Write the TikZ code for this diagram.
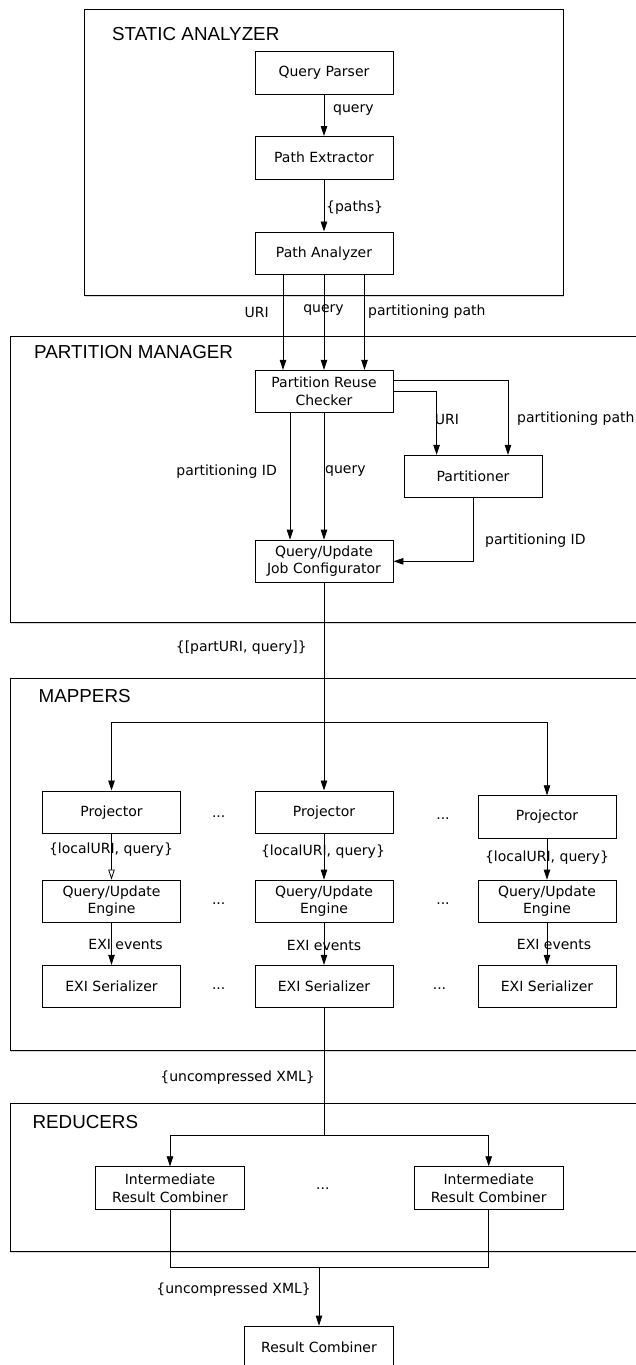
\documentclass[tikz,border=0pt]{standalone}
\usepackage{fontspec}
\usetikzlibrary{arrows.meta,shadows}
\newfontfamily\boxfamily{DejaVu Sans}
\newfontfamily\grpfamily{Liberation Sans}
\newcommand\boxfont{\boxfamily\fontsize{14}{17.6}\selectfont}
\newcommand\grpfont{\grpfamily\fontsize{18.8}{22}\selectfont}
\tikzset{
  box/.style={draw, line width=0.9pt, minimum width=138pt, minimum height=42.5pt,
    inner sep=0pt, align=center, font=\boxfont},
  widebox/.style={box, minimum width=149pt},
  group/.style={draw, line width=1pt,
    drop shadow={shadow xshift=0.8pt, shadow yshift=-1.6pt, fill=black!30}},
  grplabel/.style={right, inner sep=0pt, font=\grpfont},
  lbl/.style={inner sep=0pt, font=\boxfont},
  flow/.style={line width=0.8pt, -{Triangle[length=10pt,width=6.5pt]}},
  openflow/.style={line width=0.8pt, -{Triangle[open,length=10pt,width=6.5pt]}},
  link/.style={line width=0.8pt},
}
\begin{document}
\begin{tikzpicture}[x=1pt,y=-1pt]
\useasboundingbox (0,0) rectangle (635,1365);
%\draw [help lines, step=50pt] (0,0) grid (635,1365);

% static analyzer
\draw [group, fill=white] (84.6,9) rectangle (563.4,295.7);
\node [grplabel] (saTitle) at (112,34.3) {STATIC ANALYZER};
\node [box] (qp) at (324,72.8) {Query Parser};
\node [box] (pe) at (324,157.7) {Path Extractor};
\node [box] (pa) at (324,253.2) {Path Analyzer};
\draw [flow] (qp) -- (pe);
\node [lbl, right] (lQuery) at (333,110.3) {query};
\draw [flow] (pe) -- (pa);
\node [lbl, right] (lPaths) at (326,207.3) {\{paths\}};

% partition manager
\draw [group, fill=white] (10,336) rectangle (640,622.7);
\node [grplabel] (pmTitle) at (34,352.3) {PARTITION MANAGER};
\node [box] (prc) at (324,391.5) {Partition Reuse\\Checker};
\node [box] (part) at (473,476.5) {Partitioner};
\node [box] (qjc) at (324,561.3) {Query/Update\\Job Configurator};

\draw [flow] ([xshift=-41pt]pa.south) -- ([xshift=-41pt]prc.north);
\draw [flow] (pa.south) -- (prc.north);
\draw [flow] ([xshift=40.5pt]pa.south) -- ([xshift=40.5pt]prc.north);
\node [lbl, left] (lUri) at (269,312) {URI};
\node [lbl] (lQuery2) at (323.5,309.7) {query};
\node [lbl, right] (lPath) at (368,312) {partitioning path};

\draw [flow] ([yshift=10.8pt]prc.east) -| ([xshift=35pt]part.north);
\draw [flow] (prc.east) -| ([xshift=-36.4pt]part.north);
\node [lbl, right] (lUri2) at (434.6,419) {URI};
\node [lbl, right] (lPath2) at (517,418.3) {partitioning path};

\draw [flow] ([xshift=-34pt]prc.south) -- ([xshift=-34pt]qjc.north);
\draw [flow] (prc.south) -- (qjc.north);
\node [lbl, left] (lPid) at (277,471.3) {partitioning ID};
\node [lbl, right] (lQuery3) at (325,471.3) {query};
\draw [flow] (part.south) |- (qjc.east);
\node [lbl, right] (lPid2) at (485,541) {partitioning ID};

% mappers
\draw [group, fill=white] (10,678.3) rectangle (640,1050);
\node [grplabel] (mapTitle) at (38.5,696) {MAPPERS};
\node [box] (projL) at (111.5,812.2) {Projector};
\node [box] (projM) at (324,812.2) {Projector};
\node [box] (projR) at (547,817) {Projector};
\node [box] (engL) at (111.5,901.3) {Query/Update\\Engine};
\node [box] (engM) at (324,901.3) {Query/Update\\Engine};
\node [box] (engR) at (547,901.3) {Query/Update\\Engine};
\node [box] (serL) at (111.5,986.5) {EXI Serializer};
\node [box] (serM) at (324,986.5) {EXI Serializer};
\node [box] (serR) at (547,986.5) {EXI Serializer};
\node [lbl] (dotsP1) at (218.7,816.7) {...};
\node [lbl] (dotsP2) at (443,818.3) {...};
\node [lbl] (dotsE1) at (218.7,903.3) {...};
\node [lbl] (dotsE2) at (443,903.3) {...};
\node [lbl] (dotsS1) at (218.7,988.3) {...};
\node [lbl] (dotsS2) at (439.5,988.3) {...};

\coordinate (mapFan) at (324,722.3);
\draw [link] (qjc.south) -- (mapFan);
\draw [flow] (mapFan) -- (projM.north);
\draw [flow] (mapFan) -| (projL.north);
\draw [flow] (mapFan) -| (projR.north);
\node [lbl] (lPartUri) at (241.3,647.3) {\{[partURI, query]\}};

\draw [openflow] (projL) -- (engL);
\draw [flow] (projM) -- (engM);
\draw [flow] (projR) -- (engR);
\node [lbl] (lLocalL) at (111,850) {\{localURI, query\}};
\node [lbl] (lLocalM) at (323,851.3) {\{localURI, query\}};
\node [lbl] (lLocalR) at (547,857.3) {\{localURI, query\}};
\draw [flow] (engL) -- (serL);
\draw [flow] (engM) -- (serM);
\draw [flow] (engR) -- (serR);
\node [lbl] (lExiL) at (125.5,944) {EXI events};
\node [lbl] (lExiM) at (324,945) {EXI events};
\node [lbl] (lExiR) at (554,944) {EXI events};

% reducers
\draw [group, fill=white] (10,1103.3) rectangle (640,1251);
\node [grplabel] (redTitle) at (32.4,1121.7) {REDUCERS};
\node [widebox] (ircL) at (170,1188) {Intermediate\\Result Combiner};
\node [widebox] (ircR) at (488.7,1188) {Intermediate\\Result Combiner};
\node [lbl] (dotsR) at (322.8,1188.3) {...};

\coordinate (redFan) at (324,1135);
\draw [link] (serM.south) -- (redFan);
\draw [flow] (redFan) -| (ircL.north);
\draw [flow] (redFan) -| (ircR.north);
\node [lbl, left] (lXml) at (315,1077.3) {\{uncompressed XML\}};

% result
\node [widebox, fill=white] (rc) at (319,1347.3) {Result Combiner};
\coordinate (merge) at (319,1267.7);
\draw [link] (ircL.south) |- (merge);
\draw [link] (ircR.south) |- (merge);
\draw [flow] (merge) -- (rc.north);
\node [lbl, left] (lXml2) at (311,1289.3) {\{uncompressed XML\}};
\end{tikzpicture}
\end{document}
